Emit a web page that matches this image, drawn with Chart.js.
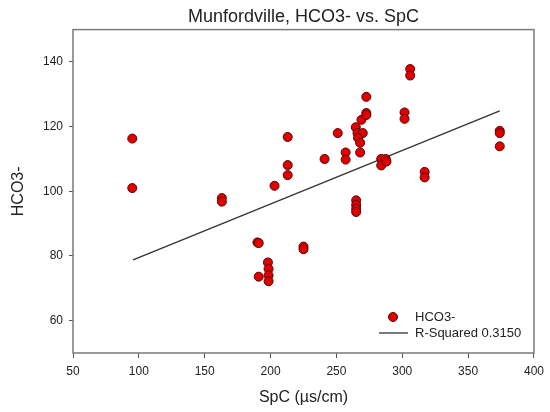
<!DOCTYPE html>
<html>
<head>
<meta charset="utf-8">
<script src="https://cdn.jsdelivr.net/npm/chart.js@4"></script>
<style>
  body { margin: 0; background: #fff; }
</style>
</head>
<body>
<canvas id="chart" width="550" height="412"></canvas>
<script>
// SpC (µs/cm) vs HCO3-
const spc = [95, 95, 163, 163, 190, 191, 191, 198, 198.5, 198.5, 198.5, 203, 213, 213, 213, 225, 225,
             241, 251, 257, 257, 265, 265, 265, 265, 264.7, 266, 270, 266.4, 268, 268, 269,
             272.7, 272.7, 272.7, 284, 287.5, 284, 288, 301.7, 301.7, 306, 306, 317, 317, 374, 374, 374];
const hco3 = [116.3, 101, 97.9, 96.8, 84.2, 84, 73.6, 78, 76, 74, 72.2, 101.7, 116.8, 108.1, 105, 82.9, 82.1,
              110, 118, 112, 109.8, 97.2, 95.8, 94.6, 93.6, 119.8, 118, 118, 116.5, 115, 112, 122.1,
              124.2, 123.6, 129.2, 110, 110, 108, 109.2, 124.4, 122.4, 137.8, 135.8, 106, 104.3, 118.7, 118, 113.9];

// regression line end points
const trendX = [95.6, 374];
const trendY = [78.8, 124.9];

const xTicks = [50, 100, 150, 200, 250, 300, 350, 400];
const yTicks = [60, 80, 100, 120, 140];

const frame = {
    id: "frame",
    afterDatasetsDraw(chart) {
        const a = chart.chartArea;
        const ctx = chart.ctx;
        ctx.save();
        ctx.strokeStyle = "#7a7a7a";
        ctx.lineWidth = 1.5;
        ctx.strokeRect(a.left, a.top, a.right - a.left, a.bottom - a.top);

        // legend in the lower right
        ctx.font = "13px 'Liberation Sans', Arial, sans-serif";
        ctx.textBaseline = "middle";
        ctx.beginPath();
        ctx.arc(393, 317, 4.5, 0, Math.PI * 2);
        ctx.fillStyle = "#e00000";
        ctx.fill();
        ctx.strokeStyle = "#5a0000";
        ctx.lineWidth = 1;
        ctx.stroke();
        ctx.beginPath();
        ctx.moveTo(379, 333);
        ctx.lineTo(408, 333);
        ctx.strokeStyle = "#333";
        ctx.lineWidth = 1.3;
        ctx.stroke();
        ctx.fillStyle = "#222";
        ctx.fillText(chart.data.datasets[0].label, 415, 317);
        ctx.fillText(chart.data.datasets[1].label, 415, 333);
        ctx.restore();
    }
};

new Chart(document.getElementById("chart").getContext("2d"), {
    type: "scatter",
    data: {
        datasets: [
            {
                label: "HCO3-",
                data: spc.map((x, i) => ({ x: x, y: hco3[i] })),
                backgroundColor: "#e00000",
                borderColor: "#5a0000",
                borderWidth: 1,
                pointRadius: 4.5
            },
            {
                label: "R-Squared 0.3150",
                type: "line",
                data: trendX.map((x, i) => ({ x: x, y: trendY[i] })),
                borderColor: "#333",
                borderWidth: 1.3,
                pointRadius: 0,
                fill: false
            }
        ]
    },
    options: {
        responsive: false,
        animation: false,
        layout: { padding: { right: 15, left: 0, top: 0, bottom: 0 } },
        plugins: {
            legend: { display: false },
            tooltip: { enabled: false },
            title: {
                display: true,
                fullSize: false,
                text: "Munfordville, HCO3- vs. SpC",
                color: "#222",
                font: { size: 18, family: "'Liberation Sans', Arial, sans-serif", weight: "normal" },
                padding: { top: 6, bottom: 2 }
            }
        },
        scales: {
            x: {
                type: "linear",
                min: 50,
                max: 400,
                afterBuildTicks: s => { s.ticks = xTicks.map(v => ({ value: v })); },
                afterFit: s => { s.height = 59; },
                grid: { display: true, drawOnChartArea: false, tickLength: 5, color: "#555" },
                border: { display: false },
                ticks: { color: "#222", padding: 6, font: { size: 12, family: "'Liberation Sans', Arial, sans-serif" } },
                title: {
                    display: true,
                    text: "SpC (µs/cm)",
                    color: "#222",
                    font: { size: 16, family: "'Liberation Sans', Arial, sans-serif" },
                    padding: { top: 4, bottom: 5 }
                }
            },
            y: {
                type: "linear",
                min: 50,
                max: 150,
                afterBuildTicks: s => { s.ticks = yTicks.map(v => ({ value: v })); },
                afterFit: s => { s.width = 73; },
                grid: { display: true, drawOnChartArea: false, tickLength: 4, color: "#555" },
                border: { display: false },
                ticks: { color: "#222", padding: 6, font: { size: 12, family: "'Liberation Sans', Arial, sans-serif" } },
                title: {
                    display: true,
                    text: "HCO3-",
                    color: "#222",
                    font: { size: 16, family: "'Liberation Sans', Arial, sans-serif" },
                    padding: { top: 9, bottom: 0 }
                }
            }
        }
    },
    plugins: [frame]
});
</script>
</body>
</html>
